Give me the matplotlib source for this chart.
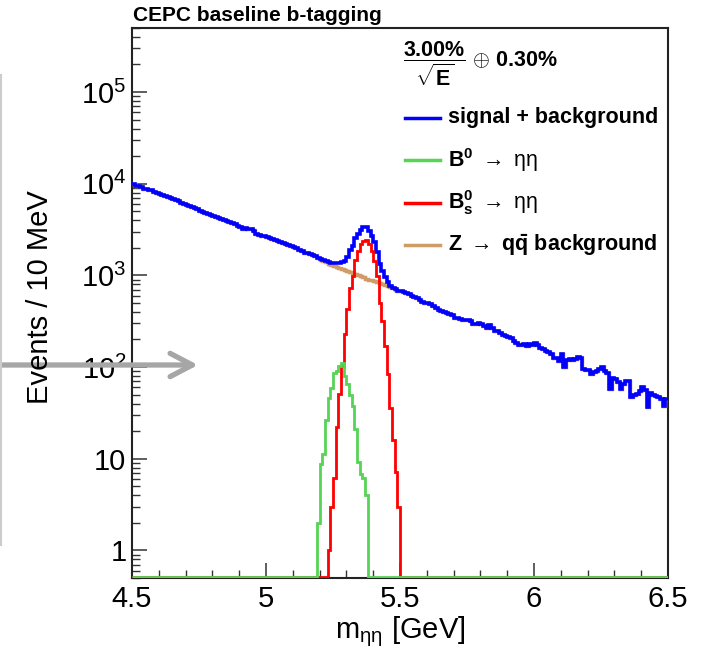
import numpy as np
import matplotlib
matplotlib.use('Agg')
import matplotlib.pyplot as plt
from matplotlib.patches import FancyArrowPatch
from matplotlib.lines import Line2D

plt.rcParams['font.family'] = ['Liberation Sans', 'DejaVu Sans']
plt.rcParams['mathtext.fontset'] = 'custom'
plt.rcParams['mathtext.rm'] = 'Liberation Sans'
plt.rcParams['mathtext.bf'] = 'Liberation Sans:bold'
plt.rcParams['mathtext.it'] = 'Liberation Sans:italic'
plt.rcParams['mathtext.sf'] = 'Liberation Sans'

# 10 MeV bins from 4.5 to 6.5 GeV
m_lo, m_hi, bin_w = 4.5, 6.5, 0.01

# Z -> qq background, events / bin
bkg = [
    9960, 9500, 9350, 9100, 8810, 8750, 8610, 8450, 8130, 8000,
    7750, 7600, 7350, 7230, 7000, 6900, 6600, 6440, 6200, 6060,
    5900, 5660, 5600, 5440, 5350, 5000, 4900, 4800, 4680, 4600,
    4410, 4350, 4250, 4130, 4050, 3890, 3800, 3700, 3640, 3500,
    3350, 3240, 3260, 3230, 3200, 3030, 2850, 2790, 2700, 2680,
    2650, 2570, 2520, 2460, 2400, 2320, 2280, 2210, 2150, 2090,
    2030, 2000, 1900, 1850, 1760, 1740, 1720, 1650, 1620,
    1540, 1490, 1445, 1395, 1340, 1300, 1270, 1240, 1205, 1175, 1145,
    1115, 1085, 1055, 1025, 1000, 975, 950, 925, 900, 880,
    860, 840, 820, 800, 780, 760, 740, 720, 700, 680, 668,
    665, 650, 620, 596, 580, 574, 540, 517, 505, 500,
    484, 465, 443, 420, 408, 395, 390, 376, 370, 346,
    340, 332, 325, 323, 330, 320, 294, 298, 302, 292,
    282, 264, 287, 270, 248, 245, 234, 225, 219, 214,
    205, 194, 185, 174, 176, 178, 170, 180,
    174, 182, 175, 160, 158, 150, 145, 138, 127, 125,
    117, 138, 99, 118, 122, 120, 122, 130, 127, 95,
    94, 93, 84, 88, 91, 95, 99, 91, 86, 58,
    76, 75, 68, 58, 66, 71, 70, 47, 49, 51,
    55, 60, 56, 37, 52, 50, 48, 47, 45, 38, 45,
]

# B0 -> eta eta, first filled bin starts at 5.19 GeV
b0_start = 5.19
b0 = [2.0, 8.8, 11.3, 26.6, 46, 59, 86, 91, 103, 112,
      80, 65, 49, 38, 21, 9.2, 6.9, 6.1, 4.0]

# Bs -> eta eta, first filled bin starts at 5.23 GeV
bs_start = 5.23
bs = [1.0, 3.0, 6.1, 22, 51, 103, 229, 426, 737, 980,
      1490, 1830, 2180, 2400, 2460, 2180, 1830, 1430, 980, 505,
      318, 170, 84, 36, 16, 7.2, 3.0]

labels = ['signal + background',
          r'$\mathbf{B}^{\mathbf{0}}$ $\rightarrow$ ηη',
          r'$\mathbf{B}_{\mathbf{s}}^{\mathbf{0}}$ $\rightarrow$ ηη',
          r'$\mathbf{Z}$ $\rightarrow$ $\mathbf{q\bar{q}}$ $\mathbf{background}$']
colors = ['#0000ff', '#55d455', '#ff0000', '#cf9c68']

x_ticks = [4.5, 5, 5.5, 6, 6.5]
x_ticklabels = ['4.5', '5', '5.5', '6', '6.5']
y_ticks = [1, 10, 1e2, 1e3, 1e4, 1e5]
y_ticklabels = ['1', '10', '$10^{2}$', '$10^{3}$', '$10^{4}$', '$10^{5}$']

W, H = 720, 660


def fx(x):
    return x / W


def fy(y):
    return 1 - y / H


nbins = len(bkg)
edges = np.linspace(m_lo, m_hi, nbins + 1)
bkg_h = np.array(bkg, dtype=float)
b0_h = np.zeros(nbins)
i0 = int(round((b0_start - m_lo) / bin_w))
b0_h[i0:i0 + len(b0)] = b0
bs_h = np.zeros(nbins)
i1 = int(round((bs_start - m_lo) / bin_w))
bs_h[i1:i1 + len(bs)] = bs
total = bkg_h + b0_h + bs_h

ymin, ymax = 0.5, 5e5
# empty bins are drawn sitting on the bottom frame, like ROOT does
floor = ymin * 10 ** 0.014

fig = plt.figure(figsize=(7.2, 6.6), dpi=100)
ax = fig.add_axes([fx(132), fy(578), fx(668) - fx(132), fy(28) - fy(578)])

ax.stairs(np.maximum(bkg_h, floor), edges, color=colors[3], lw=2.5, baseline=None, zorder=3)
ax.stairs(total, edges, color=colors[0], lw=2.6, baseline=None, zorder=3)
ax.stairs(np.maximum(bs_h, floor), edges, color=colors[2], lw=2.0, baseline=None, zorder=3)
ax.stairs(np.maximum(b0_h, floor), edges, color=colors[1], lw=2.0, baseline=None, zorder=3)

ax.set_xlim(m_lo, m_hi)
ax.set_yscale('log')
ax.set_ylim(ymin, ymax)

ax.set_xticks(x_ticks)
ax.set_xticklabels(x_ticklabels)
ax.set_xticks(np.arange(4.6, 6.45, 0.1), minor=True)
minors = [k * 10.0 ** d for d in range(-1, 6) for k in range(2, 10)]
minors = [v for v in minors if ymin <= v <= ymax]
ax.set_yticks(y_ticks)
ax.set_yticklabels(y_ticklabels)
ax.set_yticks(minors, minor=True)
ax.yaxis.set_minor_formatter(plt.NullFormatter())

ax.tick_params(which='both', direction='in', top=False, right=False, color='#333333')
ax.tick_params(which='major', length=11, width=1.1, labelsize=21)
ax.tick_params(axis='x', which='major', pad=5)
ax.tick_params(axis='y', which='major', pad=4)
ax.tick_params(which='minor', length=5.5, width=1.0)
for s in ax.spines.values():
    s.set_linewidth(1.5)
    s.set_color('#222222')

fig.text(fx(40), fy(297), 'Events / 10 MeV', rotation=90, size=21,
         ha='center', va='center')
fig.text(fx(400), fy(632), r'm$_{\mathrm{ηη}}$ [GeV]', size=21,
         ha='center', va='center')
fig.text(fx(133), fy(21), 'CEPC baseline b-tagging', size=15,
         weight='bold', ha='left', va='baseline')

# legend
fig.text(fx(403), fy(64),
         r'$\dfrac{\mathbf{3.00\%}}{\sqrt{\mathbf{E}}}$ $\oplus$ $\mathbf{0.30\%}$',
         size=15.5, ha='left', va='center')
leg_y = [118, 160, 203, 245]
for lab, col, yy in zip(labels, colors, leg_y):
    fig.add_artist(Line2D([fx(405), fx(440)], [fy(yy), fy(yy)], color=col,
                          lw=2.5, transform=fig.transFigure))
    fig.text(fx(448), fy(yy), lab, size=15.5, ha='left', va='center',
             weight='bold' if lab.startswith('signal') else 'normal')

# grey marker arrow and left line
fig.add_artist(Line2D([fx(1), fx(1)], [fy(75), fy(545)], color='#cccccc',
                      lw=1.5, transform=fig.transFigure))
arrow = FancyArrowPatch((fx(0), fy(365)), (fx(198), fy(365)),
                        transform=fig.transFigure,
                        arrowstyle='->,head_length=0.8,head_width=0.42',
                        mutation_scale=20, lw=3.8, color='#a6a6a6',
                        shrinkA=0, shrinkB=0)
fig.add_artist(arrow)

fig.savefig('out.png', dpi=100)
